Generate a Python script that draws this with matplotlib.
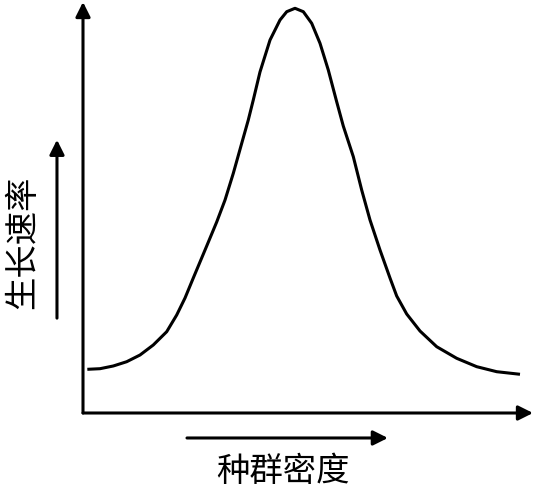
import matplotlib.pyplot as plt

plt.rcParams['font.family'] = ['Noto Sans CJK SC', 'DejaVu Sans']

# === Data ===
density = [0.096, 0.378, 0.673, 0.971, 1.267, 1.562, 1.860, 2.082, 2.267, 2.451,
           2.749, 2.971, 3.156, 3.340, 3.527, 3.673, 3.784, 3.933, 4.156, 4.378,
           4.527, 4.711, 4.896, 5.082, 5.267, 5.451, 5.633, 5.784, 6.007, 6.193,
           6.378, 6.600, 6.822, 6.971, 7.193, 7.489, 7.860, 8.304, 8.749, 9.193,
           9.711]
growth_rate = [1.063, 1.078, 1.144, 1.248, 1.411, 1.655, 1.978, 2.384, 2.798, 3.285,
               4.063, 4.647, 5.182, 5.832, 6.562, 7.129, 7.616, 8.297, 9.075, 9.562,
               9.764, 9.847, 9.764, 9.482, 8.995, 8.345, 7.591, 6.983, 6.236, 5.426,
               4.696, 3.966, 3.285, 2.847, 2.409, 1.995, 1.613, 1.331, 1.127, 1.005,
               0.942]
x_label = "种群密度"
y_label = "生长速率"

# === Figure ===
fig = plt.figure(figsize=(5.35, 4.94), dpi=100)
ax = fig.add_axes([83 / 535, 81 / 494, 450 / 535, 411 / 494])
ax.set_xlim(0, 10)
ax.set_ylim(0, 10)
ax.axis("off")

ax.plot(density, growth_rate, color="black", lw=2.2,
        solid_capstyle="butt", solid_joinstyle="round")

# axes with arrow heads
arrow = dict(arrowstyle="-|>", color="black", lw=2.2, mutation_scale=22,
             shrinkA=0, shrinkB=0)
ax.annotate("", xy=(0, 1), xytext=(0, 0), xycoords="axes fraction", arrowprops=arrow)
ax.annotate("", xy=(1, 0), xytext=(0, 0), xycoords="axes fraction", arrowprops=arrow)

# label arrows and labels (figure fraction)
fig_ax = fig.add_axes([0, 0, 1, 1], facecolor="none")
fig_ax.axis("off")
fig_ax.set_xlim(0, 1)
fig_ax.set_ylim(0, 1)
fig_ax.annotate("", xy=(0.725, 0.1134), xytext=(0.3495, 0.1134), arrowprops=arrow)
fig_ax.annotate("", xy=(0.1065, 0.717), xytext=(0.1065, 0.356), arrowprops=arrow)

fig_ax.text(0.529, 0.045, x_label, fontsize=24, ha="center", va="center")
fig_ax.text(0.043, 0.51, y_label, fontsize=24, ha="center", va="center", rotation=90)

fig.savefig("out.png", dpi=100, facecolor="white")
